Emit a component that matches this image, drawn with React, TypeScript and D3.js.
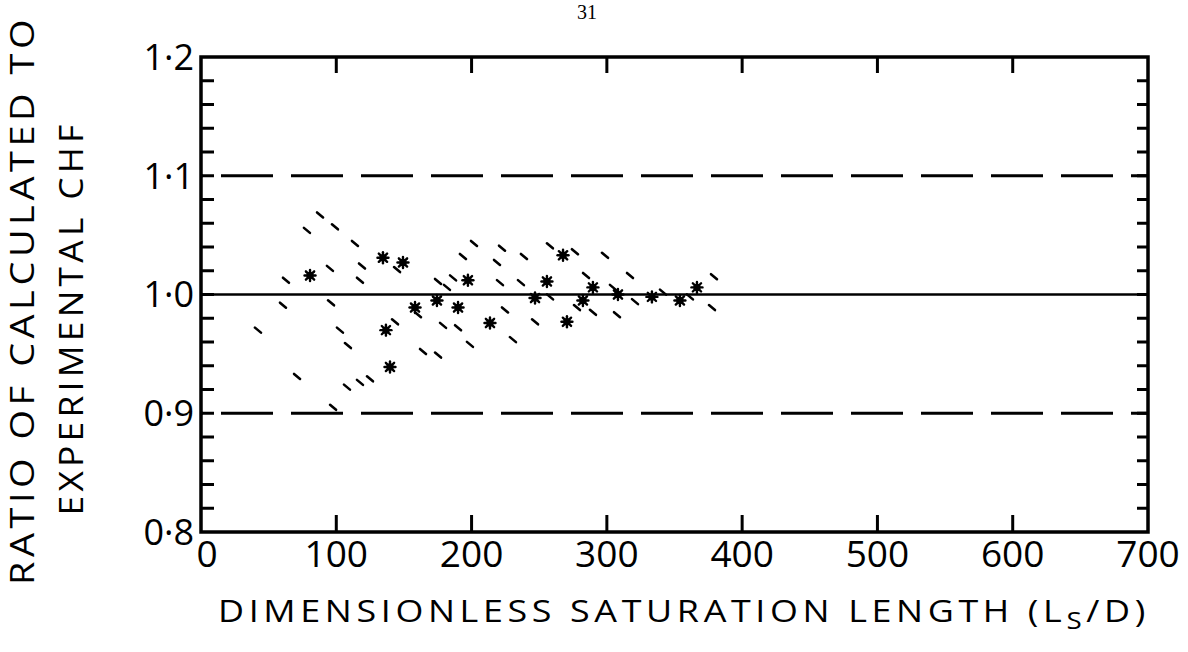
import React from "react";
import * as d3 from "d3";

const xTicks = [0, 100, 200, 300, 400, 500, 600, 700];
const yTickLabels = ["0·8", "0·9", "1·0", "1·1", "1·2"];
const yTickValues = [0.8, 0.9, 1.0, 1.1, 1.2];
const dashedRefs = [0.9, 1.1];
const solidRef = 1.0;

// asterisk-like marks
const starX = [134.5, 149.3, 80.6, 174.4, 158.2, 136.7, 139.7, 267.6, 197.3, 255.7, 289.7, 366.6, 190.0, 246.9, 282.3, 308.2, 333.3, 354.0, 213.6, 270.5];
const starY = [1.031, 1.027, 1.016, 0.995, 0.989, 0.970, 0.939, 1.033, 1.012, 1.011, 1.006, 1.006, 0.989, 0.997, 0.995, 1.000, 0.998, 0.995, 0.976, 0.977];

// small dash-like marks
const dashX = [88.0, 78.3, 99.0, 113.8, 144.9, 119.0, 95.3, 62.8, 117.5, 175.2, 160.4, 60.6, 96.1, 178.9, 42.1, 102.7, 143.4, 108.6, 164.1, 175.2, 71.0, 107.9, 117.5, 124.9, 97.6,
  201.8, 222.5, 193.6, 218.8, 238.7, 257.9, 276.4, 298.6, 317.1, 379.2, 284.6, 186.3, 181.8, 221.0, 236.5, 304.5, 341.5, 258.0, 277.9, 289.7, 361.4, 320.8, 377.7, 190.0, 224.7, 246.9, 307.5, 230.6, 198.8];
const dashY = [1.067, 1.054, 1.057, 1.043, 1.021, 1.024, 1.022, 1.012, 1.012, 1.011, 0.983, 0.991, 0.993, 0.974, 0.970, 0.970, 0.977, 0.957, 0.952, 0.949, 0.931, 0.922, 0.926, 0.929, 0.905,
  1.043, 1.039, 1.032, 1.027, 1.032, 1.041, 1.036, 1.033, 1.016, 1.015, 1.016, 1.014, 1.006, 1.010, 1.010, 1.006, 1.002, 0.998, 0.989, 0.985, 0.998, 0.994, 0.989, 0.972, 0.987, 0.977, 0.983, 0.962, 0.958];

const W = 1188;
const H = 652;
const X0 = 201, X1 = 1148, Y0 = 532, Y1 = 57;
const font = "'Open Sans', 'Liberation Sans', sans-serif";

export default function App() {
  const x = d3.scaleLinear().domain([0, 700]).range([X0, X1]);
  const y = d3.scaleLinear().domain([0.8, 1.2]).range([Y0, Y1]);
  const minor = d3.range(0.82, 1.2, 0.02).map((v) => +v.toFixed(2));

  return (
    <div style={{ position: "absolute", left: 0, top: 0 }}>
      <svg width={W} height={H} style={{ display: "block", background: "#fff" }}>
        <text x={587} y={19} fontFamily="'Liberation Serif', serif" fontSize={20} textAnchor="middle">31</text>

        {/* reference lines */}
        {dashedRefs.map((v) => (
          <line key={v} x1={X0} x2={X1} y1={y(v)} y2={y(v)} stroke="#000" strokeWidth={3} strokeDasharray="52 18" strokeDashoffset={-20} />
        ))}
        <line x1={X0} x2={X1} y1={y(solidRef)} y2={y(solidRef)} stroke="#000" strokeWidth={2.5} />

        {/* minor y ticks */}
        {minor.map((v) => (
          <g key={v}>
            <line x1={X0} x2={X0 + 13} y1={y(v)} y2={y(v)} stroke="#000" strokeWidth={3} />
            <line x1={X1} x2={X1 - 11} y1={y(v)} y2={y(v)} stroke="#000" strokeWidth={3} />
          </g>
        ))}

        {/* x ticks top and bottom */}
        {xTicks.slice(1, -1).map((t) => (
          <g key={t}>
            <line x1={x(t)} x2={x(t)} y1={Y0} y2={Y0 - 17} stroke="#000" strokeWidth={3} />
            <line x1={x(t)} x2={x(t)} y1={Y1} y2={Y1 + 16} stroke="#000" strokeWidth={3} />
          </g>
        ))}

        {/* frame */}
        <rect x={X0} y={Y1} width={X1 - X0} height={Y0 - Y1} fill="none" stroke="#000" strokeWidth={3.5} />

        {/* data */}
        {dashX.map((v, i) => {
          const cx = x(v), cy = y(dashY[i]);
          return <line key={"d" + i} x1={cx - 3} y1={cy - 2.5} x2={cx + 3} y2={cy + 2.5} stroke="#000" strokeWidth={2.6} strokeLinecap="round" />;
        })}
        {starX.map((v, i) => {
          const cx = x(v), cy = y(starY[i]);
          const r = 5.5;
          return (
            <g key={"s" + i} stroke="#000" strokeWidth={2.4} strokeLinecap="round">
              <line x1={cx - r} y1={cy} x2={cx + r} y2={cy} />
              <line x1={cx} y1={cy - r} x2={cx} y2={cy + r} />
              <line x1={cx - r * 0.75} y1={cy - r * 0.75} x2={cx + r * 0.75} y2={cy + r * 0.75} />
              <line x1={cx - r * 0.75} y1={cy + r * 0.75} x2={cx + r * 0.75} y2={cy - r * 0.75} />
              <circle cx={cx} cy={cy} r={2.5} fill="#000" />
            </g>
          );
        })}

        {/* x tick labels */}
        {xTicks.map((t) => (
          <text key={t} x={x(t) + (t === 0 ? 6 : 0)} y={567} textAnchor="middle" fontFamily={font} fontWeight={400} fontSize={37}>{t}</text>
        ))}

        {/* y tick labels */}
        {yTickValues.map((v, i) => (
          <text key={v} x={194} y={y(v)} dy="0.36em" textAnchor="end" fontFamily={font} fontWeight={400} fontSize={36}>{yTickLabels[i]}</text>
        ))}

        {/* axis titles */}
        <text x={218} y={622} fontFamily={font} fontWeight={400} fontSize={31} letterSpacing={4} textLength={932} lengthAdjust="spacingAndGlyphs">
          DIMENSIONLESS SATURATION LENGTH (L<tspan dy={7} fontSize={24}>S</tspan><tspan dy={-7}>/D)</tspan>
        </text>
        <text transform="translate(34,300) rotate(-90)" textAnchor="middle" fontFamily={font} fontWeight={400} fontSize={33} letterSpacing={4} textLength={570} lengthAdjust="spacingAndGlyphs">
          RATIO OF CALCULATED TO
        </text>
        <text transform="translate(83,318) rotate(-90)" textAnchor="middle" fontFamily={font} fontWeight={400} fontSize={33} letterSpacing={4} textLength={395} lengthAdjust="spacingAndGlyphs">
          EXPERIMENTAL CHF
        </text>
      </svg>
    </div>
  );
}
